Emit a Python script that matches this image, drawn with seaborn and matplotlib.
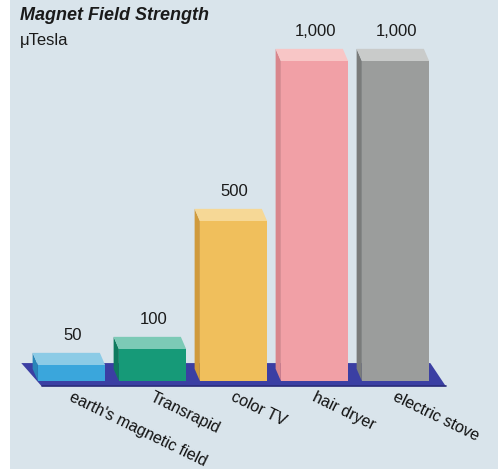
import numpy as np
import pandas as pd
import matplotlib
matplotlib.use("Agg")
import matplotlib.pyplot as plt
import seaborn as sns
from matplotlib.patches import Polygon

# Data
categories = ["earth's magnetic field", "Transrapid", "color TV", "hair dryer", "electric stove"]
values = [50, 100, 500, 1000, 1000]
value_labels = ["50", "100", "500", "1,000", "1,000"]

front_colors = ["#3aa6dc", "#169a78", "#f0bf5c", "#f1a0a6", "#9b9d9c"]
top_colors = ["#8ccbe6", "#7ccab6", "#f6d896", "#f8c6c6", "#c9cbca"]
side_colors = ["#2a86b8", "#0f7a5e", "#d09a3c", "#d9868c", "#7a7c7b"]

df = pd.DataFrame({"category": categories, "value": values})

sns.set_style("white")
plt.rcParams["font.family"] = ["Liberation Sans", "DejaVu Sans"]

W, H = 498, 469
fig = plt.figure(figsize=(W / 100, H / 100), dpi=100)
fig.patch.set_facecolor("white")
bg = fig.add_axes([10 / W, 0, 488 / W, 1])
bg.set_facecolor("#d9e4eb")
bg.set_xticks([])
bg.set_yticks([])
for s in bg.spines.values():
    s.set_visible(False)

# main axes: bar fronts, baseline at y=381px, 1000 -> 320px
ax = fig.add_axes([31 / W, (H - 381) / H, 405 / W, 320 / H])
ax.set_facecolor("none")

sns.barplot(data=df, x="category", y="value", hue="category",
            palette=front_colors, width=0.83, saturation=1,
            legend=False, ax=ax, zorder=3)
ax.set_xlim(-0.5, 4.5)
ax.set_ylim(0, 1000)

dx = -0.065   # depth offset in category units (~ -5 px)
dy = 38       # depth offset in value units (~ 12 px)

bars = [b for c in ax.containers for b in c]
for i, bar in enumerate(bars):
    x0 = bar.get_x()
    x1 = x0 + bar.get_width()
    h = bar.get_height()
    bar.set_edgecolor("none")
    side = Polygon([(x0, 0), (x0, h), (x0 + dx, h + dy), (x0 + dx, dy)],
                   closed=True, facecolor=side_colors[i], edgecolor="none",
                   clip_on=False, zorder=2)
    top = Polygon([(x0, h), (x1, h), (x1 + dx, h + dy), (x0 + dx, h + dy)],
                  closed=True, facecolor=top_colors[i], edgecolor="none",
                  clip_on=False, zorder=4)
    ax.add_patch(side)
    ax.add_patch(top)
    ax.text((x0 + x1) / 2 + 0.01, h + dy + 30, value_labels[i],
            ha="center", va="bottom", fontsize=12, color="#1a1a1a",
            clip_on=False, zorder=5)

# platform
plat = Polygon([(-0.62, 56), (4.43, 56), (4.62, -16), (-0.37, -16)],
               closed=True, facecolor="#3b3fa3", edgecolor="none",
               clip_on=False, zorder=1)
ax.add_patch(plat)
ax.plot([-0.37, 4.62], [-16, -16], color="#2a2c7a", lw=1.2, clip_on=False, zorder=1)

ax.set_xlabel("")
ax.set_ylabel("")
ax.set_yticks([])
ax.tick_params(axis="x", length=0, pad=11)
ax.set_xticks([t - 0.02 for t in range(len(categories))])
ax.set_xticklabels(categories, rotation=-26, ha="left", va="center",
                   rotation_mode="anchor", fontsize=11.5, color="#111111")
for s in ax.spines.values():
    s.set_visible(False)

fig.text(20 / W, 1 - 16 / H, "Magnet Field Strength", fontsize=13,
         fontweight="bold", fontstyle="italic", color="#1a1a1a", va="center")
fig.text(20 / W, 1 - 41 / H, "\u03bcTesla", fontsize=12,
         color="#1a1a1a", va="center")

fig.savefig("out.png", dpi=100, facecolor=fig.get_facecolor())
